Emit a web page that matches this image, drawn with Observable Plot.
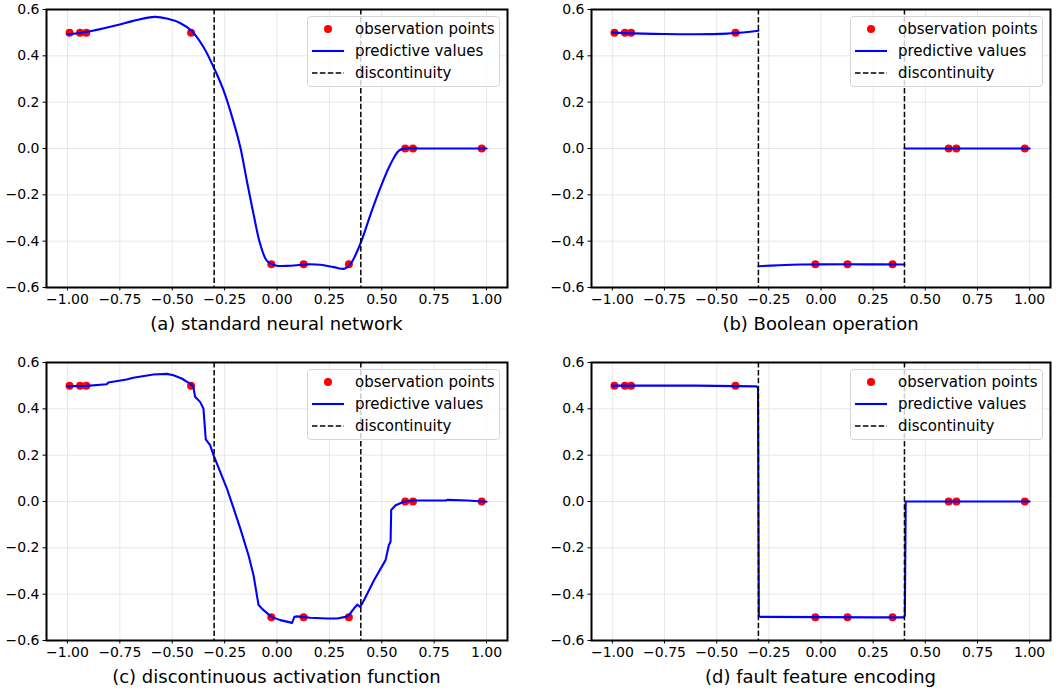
<!DOCTYPE html>
<html>
<head>
<meta charset="utf-8">
<script src="https://cdn.jsdelivr.net/npm/d3@7"></script>
<script src="https://cdn.jsdelivr.net/npm/@observablehq/plot@0.6"></script>
<style>
  body { margin: 0; background: #fff; font-family: "DejaVu Sans", sans-serif; }
  #root { position: relative; width: 1061px; height: 694px; background: #fff; }
  .panel { position: absolute; }
  .legend { position: absolute; }
  .caption { position: absolute; font-size: 18px; line-height: 21px; text-align: center; color: #000; white-space: nowrap; }
</style>
</head>
<body>
<div id="root"></div>
<script>
// ---------- data ----------
const xTicks = [-1.0, -0.75, -0.5, -0.25, 0.0, 0.25, 0.5, 0.75, 1.0];
const yTicks = [-0.6, -0.4, -0.2, 0.0, 0.2, 0.4, 0.6];
const captions = ["(a) standard neural network", "(b) Boolean operation", "(c) discontinuous activation function", "(d) fault feature encoding"];
const legendLabels = ["observation points", "predictive values", "discontinuity"];

const obsX = [-0.99, -0.94, -0.91, -0.41, -0.027, 0.127, 0.343, 0.612, 0.649, 0.977];
const obsY = [0.5, 0.5, 0.5, 0.5, -0.5, -0.5, -0.5, 0.0, 0.0, 0.0];
const discX = [-0.3, 0.4];

// (a) standard neural network
const aX = [-1.0, -0.91, -0.766, -0.686, -0.582, -0.526, -0.463, -0.408, -0.351, -0.303, -0.255, -0.207, -0.175, -0.144, -0.112, -0.080, -0.048, -0.007, 0.064, 0.148, 0.207, 0.271, 0.322, 0.350, 0.397, 0.447, 0.494, 0.542, 0.582, 0.612, 0.686, 1.0];
const aY = [0.493, 0.503, 0.532, 0.551, 0.568, 0.561, 0.542, 0.508, 0.438, 0.352, 0.251, 0.114, 0.005, -0.139, -0.283, -0.413, -0.485, -0.505, -0.506, -0.500, -0.502, -0.512, -0.519, -0.500, -0.413, -0.283, -0.168, -0.067, -0.009, 0.0, 0.0, 0.0];

// (b) Boolean operation (three segments)
const bX = [-1.0, -0.9, -0.75, -0.6, -0.45, -0.4, -0.35, -0.3, -0.3, -0.2, -0.1, 0.0, 0.2, 0.4, 0.4, 0.7, 1.0];
const bY = [0.500, 0.497, 0.494, 0.493, 0.496, 0.499, 0.503, 0.508, -0.508, -0.504, -0.501, -0.500, -0.500, -0.501, 0.0, 0.0, 0.0];
const bSeg = [0, 0, 0, 0, 0, 0, 0, 0, 1, 1, 1, 1, 1, 1, 2, 2, 2];

// (c) discontinuous activation function
const cX = [-1.0, -0.909, -0.813, -0.805, -0.718, -0.686, -0.590, -0.526, -0.494, -0.455, -0.415, -0.399, -0.391, -0.367, -0.351, -0.340, -0.319, -0.303, -0.271, -0.239, -0.207, -0.175, -0.136, -0.112, -0.088, -0.064, -0.027, 0.016, 0.072, 0.083, 0.096, 0.159, 0.239, 0.287, 0.327, 0.343, 0.367, 0.383, 0.397, 0.415, 0.463, 0.518, 0.534, 0.542, 0.545, 0.566, 0.606, 0.654, 0.750, 0.805, 0.813, 0.909, 1.0];
const cY = [0.498, 0.499, 0.506, 0.514, 0.527, 0.534, 0.548, 0.551, 0.545, 0.531, 0.509, 0.495, 0.452, 0.430, 0.401, 0.268, 0.243, 0.200, 0.128, 0.056, -0.030, -0.117, -0.232, -0.318, -0.447, -0.469, -0.498, -0.512, -0.524, -0.498, -0.496, -0.502, -0.505, -0.505, -0.498, -0.491, -0.462, -0.445, -0.455, -0.426, -0.340, -0.253, -0.188, -0.174, -0.037, -0.016, -0.001, 0.004, 0.004, 0.004, 0.007, 0.004, -0.001];

// (d) fault feature encoding
const dX = [-1.0, -0.6, -0.31, -0.302, -0.298, -0.29, 0.0, 0.25, 0.398, 0.402, 0.406, 0.7, 1.0];
const dY = [0.5, 0.5, 0.497, 0.49, -0.495, -0.498, -0.499, -0.5, -0.5, -0.49, 0.0, 0.0, 0.0];

// ---------- drawing ----------
const panels = [
  {px: aX, py: aY, seg: null, curve: "catmull-rom", left: 0, top: 0, width: 530, ml: 46, mr: 23},
  {px: bX, py: bY, seg: bSeg, curve: "catmull-rom", left: 530, top: 0, width: 531, ml: 61, mr: 11},
  {px: cX, py: cY, seg: null, curve: "linear", left: 0, top: 353, width: 530, ml: 46, mr: 23},
  {px: dX, py: dY, seg: null, curve: "linear", left: 530, top: 353, width: 531, ml: 61, mr: 11}
];

const H = 310, MT = 9, MB = 23;
const root = document.getElementById("root");
const obs = obsX.map((x, i) => ({x, y: obsY[i]}));

panels.forEach((p, k) => {
  const pred = p.px.map((x, i) => ({x, y: p.py[i], s: p.seg ? p.seg[i] : 0}));
  const chart = Plot.plot({
    width: p.width, height: H,
    marginLeft: p.ml, marginRight: p.mr, marginTop: MT, marginBottom: MB,
    x: {domain: [-1.1, 1.1], label: null},
    y: {domain: [-0.6, 0.6], label: null},
    style: {fontFamily: "DejaVu Sans", fontSize: "14px", color: "black", background: "white", overflow: "visible"},
    marks: [
      Plot.gridX(xTicks, {stroke: "#e4e4e4", strokeOpacity: 1, strokeWidth: 0.9}),
      Plot.gridY(yTicks, {stroke: "#e4e4e4", strokeOpacity: 1, strokeWidth: 0.9}),
      Plot.dot(obs, {x: "x", y: "y", r: 4, fill: "#ff0000", stroke: "none"}),
      Plot.line(pred, {x: "x", y: "y", z: "s", stroke: "#0000ff", strokeWidth: 2.1, curve: p.curve}),
      Plot.ruleX(discX, {stroke: "black", strokeWidth: 1.5, strokeDasharray: "5.5,2.4"}),
      Plot.frame({stroke: "black", strokeWidth: 2}),
      Plot.axisX(xTicks, {tickFormat: d3.format(".2f"), tickSize: 3.5, tickPadding: 3, fontSize: 14, label: null}),
      Plot.axisY(yTicks, {tickFormat: d3.format(".1f"), tickSize: 3.5, tickPadding: 3.5, fontSize: 14, label: null})
    ]
  });
  const div = document.createElement("div");
  div.className = "panel";
  div.style.left = p.left + "px";
  div.style.top = p.top + "px";
  div.style.width = p.width + "px";
  div.style.height = (H + 40) + "px";
  div.appendChild(chart);

  // legend
  const plotRight = p.width - p.mr;
  const LW = 193, LH = 71;
  const leg = document.createElement("div");
  leg.className = "legend";
  leg.style.left = (plotRight - 7 - LW) + "px";
  leg.style.top = (MT + 7) + "px";
  leg.innerHTML = `<svg width="${LW}" height="${LH}" style="display:block;font-family:'DejaVu Sans';">
    <rect x="0.5" y="0.5" width="${LW - 1}" height="${LH - 1}" rx="3" ry="3" fill="rgba(255,255,255,0.8)" stroke="#d6d6d6" stroke-width="1"></rect>
    <circle cx="21" cy="13" r="4" fill="#ff0000"></circle>
    <line x1="5" x2="37" y1="35" y2="35" stroke="#0000ff" stroke-width="2.1"></line>
    <line x1="5" x2="37" y1="57" y2="57" stroke="black" stroke-width="1.5" stroke-dasharray="5.5,2.4"></line>
    <text x="48" y="13" dy="0.35em" font-size="15">${legendLabels[0]}</text>
    <text x="48" y="35" dy="0.35em" font-size="15">${legendLabels[1]}</text>
    <text x="48" y="57" dy="0.35em" font-size="15">${legendLabels[2]}</text>
  </svg>`;
  div.appendChild(leg);

  // caption
  const cap = document.createElement("div");
  cap.className = "caption";
  cap.style.left = p.ml + "px";
  cap.style.width = (p.width - p.ml - p.mr) + "px";
  cap.style.top = "313px";
  cap.textContent = captions[k];
  div.appendChild(cap);

  root.appendChild(div);
});
</script>
</body>
</html>
